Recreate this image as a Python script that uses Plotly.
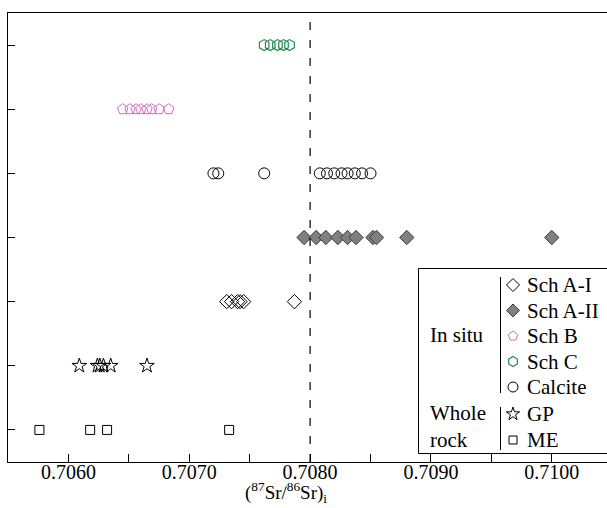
import plotly.graph_objects as go

# ---------------- data ----------------
sch_a1 = [0.70731, 0.70735, 0.70740, 0.70742, 0.70745, 0.70787]
sch_a2 = [0.70795, 0.70805, 0.70813, 0.70823, 0.70831, 0.70838,
          0.70852, 0.70855, 0.70880, 0.71000]
sch_b = [0.70645, 0.70651, 0.70656, 0.70660, 0.70665, 0.70669, 0.70675, 0.70683]
sch_c = [0.70762, 0.70767, 0.70773, 0.70778, 0.70783]
calcite = [0.70720, 0.70724, 0.70762, 0.70808, 0.70814, 0.70820,
           0.70826, 0.70831, 0.70837, 0.70843, 0.70850]
gp = [0.70609, 0.70624, 0.70626, 0.70629, 0.70635, 0.70665]
me = [0.70576, 0.70618, 0.70632, 0.70733]

series_names = ["Sch A-I", "Sch A-II", "Sch B", "Sch C", "Calcite", "GP", "ME"]
series_values = [sch_a1, sch_a2, sch_b, sch_c, calcite, gp, me]
series_rows = [2, 3, 5, 6, 4, 1, 0]

x_major_ticks = [0.7060, 0.7070, 0.7080, 0.7090, 0.7100]
x_minor_ticks = [0.7065, 0.7075, 0.7085, 0.7095]
reference_value = 0.7080

# ---------------- styles ----------------
FONT = "'Liberation Serif', 'Times New Roman', 'DejaVu Serif', serif"
GREEN = "#238a4c"
PINK = "#cf6fc2"
styles = {
    "Sch A-I": dict(symbol="diamond-open", size=11, color="black", line=dict(width=1, color="black")),
    "Sch A-II": dict(symbol="diamond", size=11, color="#808080", line=dict(width=1, color="#3a3a3a")),
    "Sch B": dict(symbol="pentagon-open", size=11, color=PINK, line=dict(width=1, color=PINK)),
    "Sch C": dict(symbol="hexagon-open", size=11, color=GREEN, line=dict(width=1.2, color=GREEN)),
    "Calcite": dict(symbol="circle-open", size=11, color="black", line=dict(width=1, color="black")),
    "GP": dict(symbol="star-open", size=11, color="black", line=dict(width=1, color="black")),
    "ME": dict(symbol="square-open", size=9, color="black", line=dict(width=1, color="black")),
}

fig = go.Figure()
for name, vals, row in zip(series_names, series_values, series_rows):
    fig.add_trace(go.Scatter(
        x=vals, y=[row] * len(vals), mode="markers", name=name,
        marker=styles[name], showlegend=False, hoverinfo="x+name",
    ))

# ---------------- custom legend (pixel-coordinate overlay axes) ----------------
leg_marker_x = 513
leg_text_x = 525
leg_rows_y = [285, 310.5, 336, 361.5, 387, 414, 440]
for name, yy in zip(series_names, leg_rows_y):
    st = dict(styles[name])
    st["size"] = st["size"] - 1
    fig.add_trace(go.Scatter(x=[leg_marker_x], y=[yy], mode="markers", marker=st,
                             xaxis="x2", yaxis="y2", showlegend=False, hoverinfo="skip"))
    fig.add_annotation(x=leg_text_x, y=yy, xref="x2", yref="y2", text=name,
                       showarrow=False, xanchor="left", yanchor="middle",
                       font=dict(family=FONT, size=21, color="black"))

for txt, yy in [("In situ", 335), ("Whole", 413), ("rock", 440)]:
    fig.add_annotation(x=428, y=yy, xref="x2", yref="y2", text=txt,
                       showarrow=False, xanchor="left", yanchor="middle",
                       font=dict(family=FONT, size=21, color="black"))

shapes = [
    dict(type="rect", xref="x2", yref="y2", x0=418.5, x1=612, y0=268.5, y1=453.5,
         line=dict(color="black", width=1), fillcolor="white", layer="below"),
    dict(type="line", xref="x2", yref="y2", x0=500.5, x1=500.5, y0=277, y1=393,
         line=dict(color="black", width=1)),
    dict(type="line", xref="x2", yref="y2", x0=500.5, x1=500.5, y0=407, y1=450,
         line=dict(color="black", width=1)),
    dict(type="line", xref="x", yref="paper", x0=reference_value, x1=reference_value, y0=0, y1=1,
         line=dict(color="black", width=1.2, dash="8px,10px"), layer="above"),
]

# axis title, placed in paper coordinates below the plot
fig.add_annotation(x=(286 - 8) / 599, y=-(508 - 462) / 449, xref="paper", yref="paper",
                   text="(<sup>87</sup>Sr/<sup>86</sup>Sr)<sub>i</sub>",
                   showarrow=False, xanchor="center", yanchor="bottom",
                   font=dict(family=FONT, size=19, color="black"))

fig.update_layout(
    width=607, height=508,
    margin=dict(l=8, r=0, t=13, b=46),
    paper_bgcolor="white", plot_bgcolor="white",
    font=dict(family=FONT, size=21, color="black"),
    shapes=shapes,
    xaxis=dict(range=[0.70550, 0.710457], tickvals=x_major_ticks, tickformat=".4f",
               ticks="inside", ticklen=8, tickcolor="black", tickwidth=1,
               ticklabelstandoff=-8,
               minor=dict(tickvals=x_minor_ticks, ticks="inside", ticklen=8,
                          tickcolor="black", tickwidth=1, showgrid=False),
               showline=True, linecolor="black", linewidth=1, mirror=True,
               showgrid=False, zeroline=False,
               tickfont=dict(family=FONT, size=20, color="black")),
    yaxis=dict(range=[-0.5, 6.5], tickvals=list(range(7)), ticks="inside", ticklen=7,
               tickcolor="black", showticklabels=False, showline=True, linecolor="black",
               linewidth=1, showgrid=False, zeroline=False),
    xaxis2=dict(overlaying="x", range=[8, 607], visible=False, fixedrange=True),
    yaxis2=dict(overlaying="y", range=[462, 13], visible=False, fixedrange=True),
)

fig.write_html("out.html")
